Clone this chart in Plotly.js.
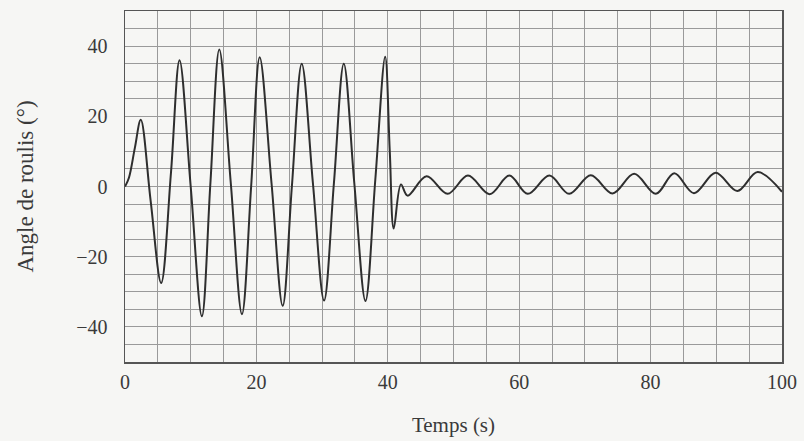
<!DOCTYPE html>
<html>
<head>
<meta charset="utf-8">
<script src="https://cdn.plot.ly/plotly-3.0.1.min.js"></script>
<style>
  html, body { margin: 0; padding: 0; background: #f6f6f4; }
  #chart { width: 804px; height: 441px; }
</style>
</head>
<body>
<div id="chart"></div>
<script>
// Time (s) and roll angle (deg)
const temps = [
  0, 0.6, 1.5, 2.4, 3.9, 5.5, 7.0, 8.3, 10.0, 11.7, 13.0, 14.35, 16.1, 17.8,
  19.2, 20.5, 22.3, 24.0, 25.4, 26.9, 28.6, 30.3, 31.8, 33.3, 34.9, 36.6,
  38.1, 39.6, 40.3, 40.9, 42.0, 43.0, 45.9, 49.1, 52.2, 55.5, 58.5, 61.3,
  64.6, 67.6, 70.9, 74.2, 77.5, 80.8, 83.6, 86.6, 89.9, 93.2, 96.3, 100
];
const angle = [
  0, 2.5, 11, 19, -4, -27.5, 4, 36, 0, -37, 1, 39, 1, -36.4,
  0, 36.8, 1, -34, 0, 35, 1, -32.5, 1, 35, 1, -32.6,
  2, 37, 10, -12, 0.6, -2.6, 2.9, -2.1, 3.1, -2.2, 3.1, -2.1,
  3.1, -2.1, 3.2, -2.0, 3.6, -2.1, 3.8, -1.9, 3.9, -1.3, 4.1, -1.5
];
const xTicks = [0, 20, 40, 60, 80, 100];
const yTicks = [-40, -20, 0, 20, 40];

const fam = 'Liberation Serif, Times New Roman, serif';
const font = { family: fam, size: 20, color: '#3a3a3a' };

Plotly.newPlot('chart', [{
  x: temps,
  y: angle,
  type: 'scatter',
  mode: 'lines',
  line: { color: '#2e2e2e', width: 2, shape: 'spline', smoothing: 1 },
  hoverinfo: 'skip'
}], {
  width: 804, height: 441,
  margin: { l: 125, r: 22, t: 11, b: 79 },
  paper_bgcolor: '#f6f6f4',
  plot_bgcolor: '#f6f6f4',
  font: font,
  showlegend: false,
  xaxis: {
    range: [0, 100],
    tickvals: xTicks,
    ticktext: xTicks.map(String),
    showgrid: true, gridcolor: '#9a9a9a', gridwidth: 1,
    minor: { dtick: 5, showgrid: true, gridcolor: '#9a9a9a', gridwidth: 1 },
    zeroline: false,
    showline: true, mirror: true, linecolor: '#555', linewidth: 1.5,
    ticks: '', ticklabelstandoff: 1,
    title: { text: 'Temps (s)', font: { family: fam, size: 21, color: '#3a3a3a' }, standoff: 26 }
  },
  yaxis: {
    range: [-50, 50],
    tickvals: yTicks,
    ticktext: yTicks.map(v => v < 0 ? '\u2212' + Math.abs(v) : String(v)),
    showgrid: true, gridcolor: '#9a9a9a', gridwidth: 1,
    minor: { dtick: 5, showgrid: true, gridcolor: '#9a9a9a', gridwidth: 1 },
    zeroline: false,
    showline: true, mirror: true, linecolor: '#555', linewidth: 1.5,
    ticks: '', ticklabelstandoff: 12,
    title: { text: 'Angle de roulis (°)', font: { family: fam, size: 23, color: '#3a3a3a' }, standoff: 36 }
  }
}, { staticPlot: true, displayModeBar: false });
</script>
</body>
</html>
